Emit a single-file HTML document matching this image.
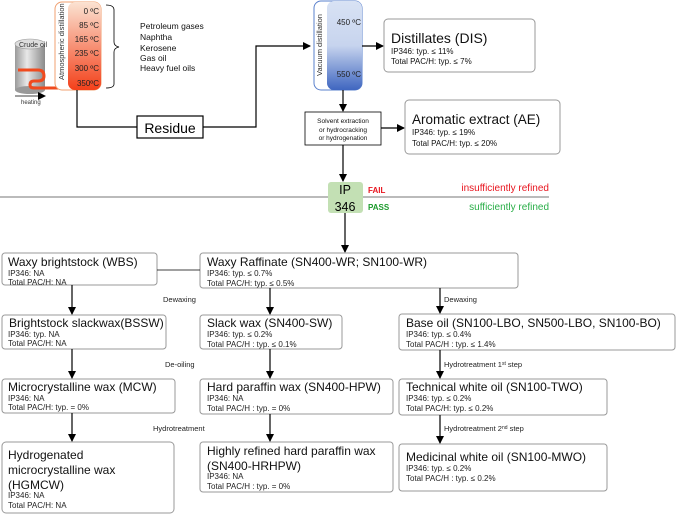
<!DOCTYPE html>
<html><head><meta charset="utf-8"><style>
html,body{margin:0;padding:0;background:#fff;}
svg{display:block;font-family:"Liberation Sans",Arial,sans-serif;}
</style></head><body>
<svg width="676" height="514" viewBox="0 0 676 514" xmlns="http://www.w3.org/2000/svg">
<defs>
<marker id="a" markerWidth="8" markerHeight="8" refX="7" refY="4" orient="auto" markerUnits="userSpaceOnUse"><path d="M0,0 L8,4 L0,8 z" fill="#000"/></marker>
<linearGradient id="og" x1="0" y1="0" x2="0" y2="1"><stop offset="0" stop-color="#fbe3d2"/><stop offset="1" stop-color="#f3401a"/></linearGradient>
<linearGradient id="bg" x1="0" y1="0" x2="0" y2="1"><stop offset="0" stop-color="#d8e2f4"/><stop offset="0.5" stop-color="#c7d4ee"/><stop offset="1" stop-color="#3f66c0"/></linearGradient>
<linearGradient id="cyl" x1="0" y1="0" x2="1" y2="0"><stop offset="0" stop-color="#9a9a9a"/><stop offset="0.4" stop-color="#e8e8e8"/><stop offset="1" stop-color="#8a8a8a"/></linearGradient>
</defs>
<g stroke="#000" fill="none" stroke-width="1.2">
<rect x="15" y="44" width="30" height="46" fill="url(#cyl)" stroke="none"/>
<ellipse cx="30" cy="44" rx="15" ry="5" fill="#ddd" stroke="#999" stroke-width="0.6"/>
<ellipse cx="30" cy="90" rx="15" ry="4" fill="#999" stroke="none"/>
<path d="M18,70 L38,70 Q44,70 44,76 Q44,81 38,81 L34,81 Q30,81 30,85 Q30,88 34,88 L70,88" stroke="#f04a1e" stroke-width="3"/>
<line x1="15" y1="96" x2="45" y2="96" stroke-width="0.7" marker-end="url(#a)"/>
<rect x="55" y="2" width="46" height="88" rx="7" fill="#fff" stroke="#f0a070" stroke-width="1"/>
<rect x="68" y="2" width="33" height="88" rx="7" fill="url(#og)" stroke="none"/>
<path d="M106,5 Q114,5 114,10 L114,42 Q114,46 119,47 Q114,48 114,52 L114,84 Q114,88 106,88" stroke-width="0.8"/>
<polyline points="77,90 77,127 137,127"/>
<polyline points="203,127 256,127 256,46 310,46" marker-end="url(#a)"/>
<rect x="137" y="116" width="66" height="22" fill="#fff"/>
<rect x="314" y="1" width="48" height="89" rx="7" fill="#fff" stroke="#5a80cc" stroke-width="1"/>
<rect x="327" y="1" width="35" height="89" rx="7" fill="url(#bg)" stroke="none"/>
<line x1="362" y1="46" x2="383" y2="46" marker-end="url(#a)"/>
<line x1="343" y1="90" x2="343" y2="111" marker-end="url(#a)"/>
<rect x="305" y="112" width="76" height="33" fill="#fff" stroke-width="0.8"/>
<line x1="381" y1="128" x2="404" y2="128" marker-end="url(#a)"/>
<line x1="343" y1="145" x2="343" y2="181" marker-end="url(#a)"/>
<line x1="0" y1="197" x2="549" y2="197" stroke="#777" stroke-width="1"/>
<rect x="328" y="182" width="35" height="31" rx="3" fill="#c3e0b4" stroke="none"/>
<line x1="345" y1="213" x2="345" y2="252" marker-end="url(#a)"/>
<g stroke="#999" stroke-width="1" fill="#fff">
<rect x="384" y="19" width="151" height="53" rx="4"/>
<rect x="405" y="100" width="155" height="54" rx="4"/>
<rect x="2" y="253" width="155" height="32" rx="3"/>
<rect x="200" y="253" width="318" height="35" rx="3"/>
<rect x="2" y="315" width="164" height="34" rx="3"/>
<rect x="200" y="315" width="142" height="34" rx="3"/>
<rect x="399" y="314" width="276" height="36" rx="3"/>
<rect x="2" y="379" width="173" height="34" rx="3"/>
<rect x="200" y="379" width="193" height="35" rx="3"/>
<rect x="399" y="379" width="208" height="36" rx="3"/>
<rect x="2" y="442" width="172" height="71" rx="4"/>
<rect x="200" y="442" width="193" height="50" rx="3"/>
<rect x="399" y="444" width="208" height="47" rx="3"/>
</g>
<line x1="157" y1="270" x2="200" y2="270" stroke-width="0.8"/>
<line x1="72" y1="285" x2="72" y2="314" marker-end="url(#a)"/>
<line x1="72" y1="349" x2="72" y2="378" marker-end="url(#a)"/>
<line x1="72" y1="413" x2="72" y2="441" marker-end="url(#a)"/>
<line x1="270" y1="288" x2="270" y2="314" marker-end="url(#a)"/>
<line x1="270" y1="349" x2="270" y2="378" marker-end="url(#a)"/>
<line x1="270" y1="414" x2="270" y2="441" marker-end="url(#a)"/>
<line x1="440" y1="288" x2="440" y2="313" marker-end="url(#a)"/>
<line x1="440" y1="350" x2="440" y2="378" marker-end="url(#a)"/>
<line x1="440" y1="415" x2="440" y2="443" marker-end="url(#a)"/>
</g>
<g font-size="7" fill="#333">
<text x="19" y="47">Crude oil</text>
<text x="21" y="104" font-size="6">heating</text>
<text transform="translate(64,80) rotate(-90)" font-size="7.5">Atmospheric distillation</text>
<text transform="translate(322,76) rotate(-90)" font-size="7.5">Vacuum distillation</text>
</g>
<g font-size="8" fill="#222" text-anchor="end">
<text x="99" y="14">0 ºC</text><text x="99" y="28">85 ºC</text><text x="99" y="42">165 ºC</text>
<text x="99" y="56">235 ºC</text><text x="99" y="71">300 ºC</text><text x="99" y="86">350ºC</text>
<text x="361" y="25">450 ºC</text><text x="361" y="77">550 ºC</text>
</g>
<g font-size="8.5" fill="#111">
<text x="140" y="29">Petroleum gases</text><text x="140" y="40">Naphtha</text><text x="140" y="51">Kerosene</text>
<text x="140" y="61">Gas oil</text><text x="140" y="71">Heavy fuel oils</text>
</g>
<text x="170" y="133" font-size="14" text-anchor="middle">Residue</text>
<g font-size="6.5" text-anchor="middle" fill="#111">
<text x="343" y="123">Solvent extraction</text><text x="343" y="132">or hydrocracking</text><text x="343" y="140">or hydrogenation</text>
</g>
<text x="345" y="194" font-size="12.5" text-anchor="middle">IP</text>
<text x="345" y="211" font-size="12.5" text-anchor="middle">346</text>
<text x="368" y="193" font-size="8" font-weight="bold" fill="#e8141e">FAIL</text>
<text x="368" y="210" font-size="8" font-weight="bold" fill="#1a9a2a">PASS</text>
<text x="549" y="191" font-size="10" fill="#e8141e" text-anchor="end">insufficiently refined</text>
<text x="549" y="210" font-size="10" fill="#2aae48" text-anchor="end">sufficiently refined</text>
<g fill="#111">
<text x="391" y="43" font-size="14">Distillates (DIS)</text>
<text x="391" y="54" font-size="8">IP346: typ. ≤ 11%</text><text x="391" y="64" font-size="8">Total PAC/H: typ. ≤ 7%</text>
<text x="412" y="124" font-size="13.5">Aromatic extract (AE)</text>
<text x="412" y="135" font-size="8">IP346: typ. ≤ 19%</text><text x="412" y="146" font-size="8">Total PAC/H: typ. ≤ 20%</text>
</g>
<g fill="#111" font-size="12">
<text x="8" y="266">Waxy brightstock (WBS)</text>
<text x="207" y="266">Waxy Raffinate (SN400-WR; SN100-WR)</text>
<text x="9" y="327">Brightstock slackwax(BSSW)</text>
<text x="207" y="327">Slack wax (SN400-SW)</text>
<text x="406" y="327">Base oil (SN100-LBO, SN500-LBO, SN100-BO)</text>
<text x="8" y="391">Microcrystalline wax (MCW)</text>
<text x="207" y="391">Hard paraffin wax (SN400-HPW)</text>
<text x="406" y="391">Technical white oil (SN100-TWO)</text>
<text x="8" y="459">Hydrogenated</text><text x="8" y="474">microcrystalline wax</text><text x="8" y="489">(HGMCW)</text>
<text x="207" y="455">Highly refined hard paraffin wax</text><text x="207" y="470">(SN400-HRHPW)</text>
<text x="406" y="461">Medicinal white oil (SN100-MWO)</text>
</g>
<g fill="#222" font-size="8">
<text x="8" y="276">IP346: NA</text><text x="8" y="285">Total PAC/H: NA</text>
<text x="207" y="276">IP346: typ. ≤ 0.7%</text><text x="207" y="286">Total PAC/H: typ. ≤ 0.5%</text>
<text x="8" y="337">IP346: typ. NA</text><text x="8" y="346">Total PAC/H: NA</text>
<text x="207" y="337">IP346: typ. ≤ 0.2%</text><text x="207" y="347">Total PAC/H : typ. ≤ 0.1%</text>
<text x="406" y="337">IP346: typ. ≤ 0.4%</text><text x="406" y="347">Total PAC/H : typ. ≤ 1.4%</text>
<text x="8" y="401">IP346: NA</text><text x="8" y="410">Total PAC/H: typ. = 0%</text>
<text x="207" y="401">IP346: NA</text><text x="207" y="411">Total PAC/H : typ. = 0%</text>
<text x="406" y="401">IP346: typ. ≤ 0.2%</text><text x="406" y="411">Total PAC/H: typ. ≤ 0.2%</text>
<text x="8" y="498">IP346: NA</text><text x="8" y="508">Total PAC/H: NA</text>
<text x="207" y="479">IP346: NA</text><text x="207" y="489">Total PAC/H : typ. = 0%</text>
<text x="406" y="471">IP346: typ. ≤ 0.2%</text><text x="406" y="481">Total PAC/H : typ. ≤ 0.2%</text>
</g>
<g fill="#222" font-size="7.5">
<text x="163" y="302">Dewaxing</text>
<text x="165" y="367">De-oiling</text>
<text x="153" y="431">Hydrotreatment</text>
<text x="444" y="302">Dewaxing</text>
<text x="444" y="367">Hydrotreatment 1<tspan font-size="5" dy="-2">st</tspan><tspan dy="2"> step</tspan></text>
<text x="444" y="431">Hydrotreatment 2<tspan font-size="5" dy="-2">nd</tspan><tspan dy="2"> step</tspan></text>
</g>
</svg>
</body></html>
